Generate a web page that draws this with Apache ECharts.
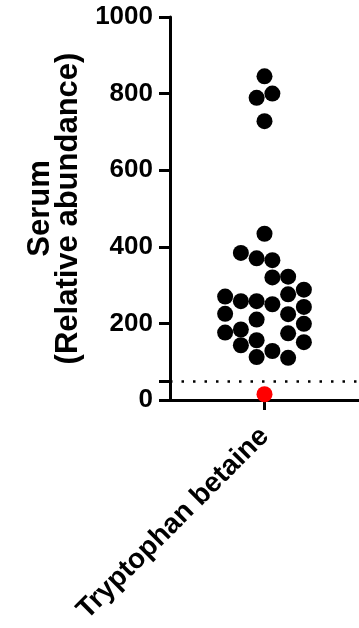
<!DOCTYPE html>
<html>
<head>
<meta charset="utf-8">
<script src="https://cdn.jsdelivr.net/npm/echarts@6/dist/echarts.min.js"></script>
<style>
html,body{margin:0;padding:0;background:#fff;}
#c{width:359px;height:628px;}
</style>
</head>
<body>
<div id="c"></div>
<script>
// ---- data ----
var categories = ['Tryptophan betaine'];
var yTickLabels = [0, 200, 400, 600, 800, 1000];
var yTickMarks = [0, 50, 200, 400, 600, 800, 1000];
var thresholdValue = 50;
// detected values (relative abundance) and their beeswarm lane (in dot widths)
var detectedValues = [845, 800, 789, 728, 434, 384, 370, 365, 322, 320, 288, 276, 270, 258, 258, 250, 243, 225, 224, 210, 199, 184, 176, 174, 156, 151, 143, 128, 112, 110];
var detectedLanes  = [0, 0.5, -0.5, 0, 0, -1.5, -0.5, 0.5, 1.5, 0.5, 2.5, 1.5, -2.5, -1.5, -0.5, 0.5, 2.5, -2.5, 1.5, -0.5, 2.5, -1.5, -2.5, 1.5, -0.5, 2.5, -1.5, 0.5, -0.5, 1.5];
// below-threshold sample
var belowValues = [15];
var belowLanes = [0];

var FONT = '"Liberation Sans", Arial, Helvetica, sans-serif';
var chart = echarts.init(document.getElementById('c'), null, {renderer: 'canvas'});

function pairs(lanes, vals) {
  return vals.map(function (v, i) { return [lanes[i], v]; });
}

chart.setOption({
  animation: false,
  backgroundColor: '#fff',
  grid: {left: 170, right: 0, top: 17, bottom: 228, containLabel: false},
  xAxis: [{
    type: 'category',
    data: categories,
    boundaryGap: true,
    axisLine: {show: true, lineStyle: {color: '#000', width: 3}},
    axisTick: {show: true, alignWithLabel: true, length: 10, lineStyle: {color: '#000', width: 3}},
    axisLabel: {rotate: 45, color: '#000', fontFamily: FONT, fontWeight: 'bold', fontSize: 28, margin: 32},
    splitLine: {show: false}
  }, {
    type: 'value',
    min: -6, max: 6,
    show: false
  }],
  yAxis: {
    type: 'value',
    min: 0, max: 1000,
    interval: 200,
    name: 'Serum\n(Relative abundance)',
    nameLocation: 'middle',
    nameRotate: 90,
    nameGap: 88,
    nameTextStyle: {color: '#000', fontFamily: FONT, fontWeight: 'bold', fontSize: 31, lineHeight: 28, align: 'center'},
    axisLine: {show: true, onZero: false, lineStyle: {color: '#000', width: 3}},
    axisTick: {show: true, length: 11, customValues: yTickMarks, lineStyle: {color: '#000', width: 3}},
    axisLabel: {color: '#000', fontFamily: FONT, fontWeight: 'bold', fontSize: 26, margin: 17, customValues: yTickLabels,
      formatter: function (v) { return String(v); }},
    splitLine: {show: false}
  },
  series: [{
    type: 'scatter',
    xAxisIndex: 1,
    data: pairs(detectedLanes, detectedValues),
    symbol: 'circle',
    symbolSize: 16,
    itemStyle: {color: '#000', opacity: 1},
    markLine: {
      silent: true,
      symbol: 'none',
      label: {show: false},
      lineStyle: {color: '#000', type: [2.5, 9], width: 2.5},
      data: [{yAxis: thresholdValue}]
    }
  }, {
    type: 'scatter',
    xAxisIndex: 1,
    data: pairs(belowLanes, belowValues),
    symbol: 'circle',
    symbolSize: 16,
    itemStyle: {color: '#ff0000', opacity: 1}
  }]
});
</script>
</body>
</html>
